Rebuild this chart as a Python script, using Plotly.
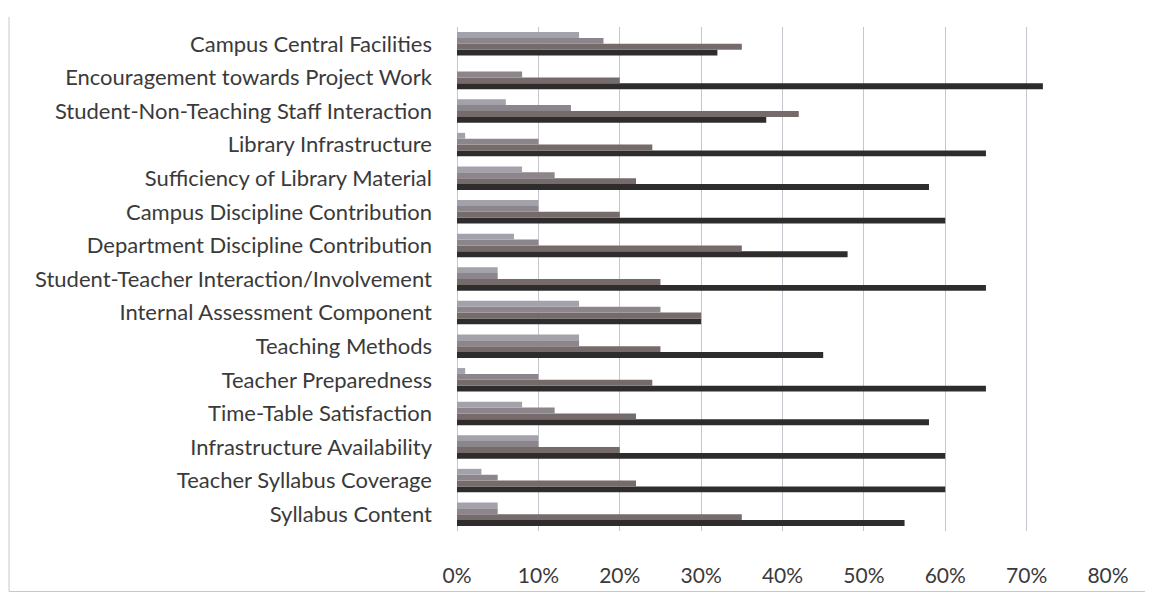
import plotly.graph_objects as go

# categories, bottom to top (as drawn by the axis)
categories = [
    "Syllabus Content",
    "Teacher Syllabus Coverage",
    "Infrastructure Availability",
    "Time-Table Satisfaction",
    "Teacher Preparedness",
    "Teaching Methods",
    "Internal Assessment Component",
    "Student-Teacher Interaction/Involvement",
    "Department Discipline Contribution",
    "Campus Discipline Contribution",
    "Sufficiency of Library Material",
    "Library Infrastructure",
    "Student-Non-Teaching Staff Interaction",
    "Encouragement towards Project Work",
    "Campus Central Facilities",
]

# series (top bar in each group = series_a ... bottom bar = series_d), fractions
series_a = [0.05, 0.03, 0.10, 0.08, 0.01, 0.15, 0.15, 0.05, 0.07, 0.10, 0.08, 0.01, 0.06, 0.00, 0.15]
series_b = [0.05, 0.05, 0.10, 0.12, 0.10, 0.15, 0.25, 0.05, 0.10, 0.10, 0.12, 0.10, 0.14, 0.08, 0.18]
series_c = [0.35, 0.22, 0.20, 0.22, 0.24, 0.25, 0.30, 0.25, 0.35, 0.20, 0.22, 0.24, 0.42, 0.20, 0.35]
series_d = [0.55, 0.60, 0.60, 0.58, 0.65, 0.45, 0.30, 0.65, 0.48, 0.60, 0.58, 0.65, 0.38, 0.72, 0.32]

tick_vals = [0, 0.1, 0.2, 0.3, 0.4, 0.5, 0.6, 0.7, 0.8]
tick_text = ["0%", "10%", "20%", "30%", "40%", "50%", "60%", "70%", "80%"]

colors = {"d": "#2f2c2e", "c": "#766b6b", "b": "#8c858b", "a": "#a3a2aa"}

fig = go.Figure()
# first trace sits at the bottom of each group
for key, vals in [("d", series_d), ("c", series_c), ("b", series_b), ("a", series_a)]:
    fig.add_trace(go.Bar(
        y=categories, x=vals, orientation="h",
        marker=dict(color=colors[key], line=dict(width=0)),
        showlegend=False, hoverinfo="skip",
    ))

fig.update_layout(
    width=1145, height=591,
    margin=dict(l=449, r=45, t=19, b=64),
    barmode="group", bargap=0.3, bargroupgap=0,
    paper_bgcolor="white", plot_bgcolor="white",
    font=dict(family="Lato, 'Open Sans', sans-serif", size=21, color="#3a3a3a"),
    xaxis=dict(
        range=[0, 0.8], tickvals=tick_vals, ticktext=tick_text,
        showgrid=True, gridcolor="#c6c6ce", gridwidth=1,
        zeroline=True, zerolinecolor="#c6c6ce", zerolinewidth=1,
        ticks="", ticklabelstandoff=30, showline=False, fixedrange=True,
        tickfont=dict(size=21),
    ),
    yaxis=dict(
        type="category", categoryorder="array", categoryarray=categories,
        ticks="", ticklabelstandoff=24, showgrid=False, showline=False,
        fixedrange=True, tickfont=dict(size=22),
    ),
    shapes=[
        dict(type="line", xref="paper", yref="paper",
             x0=(1 - 449) / 651, x1=(1 - 449) / 651, y0=-0.12, y1=1.02,
             line=dict(color="#c8c8c8", width=1)),
        dict(type="line", xref="paper", yref="paper",
             x0=(1 - 449) / 651, x1=1.07, y0=-0.12, y1=-0.12,
             line=dict(color="#c8c8c8", width=1)),
    ],
)

fig.write_html("out.html")
